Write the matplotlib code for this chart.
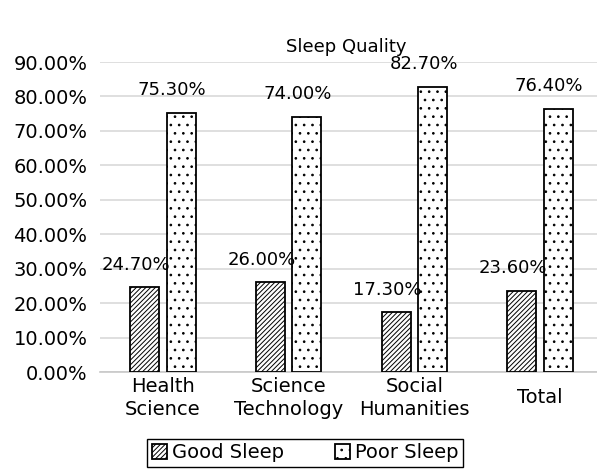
import matplotlib
matplotlib.use("Agg")
import matplotlib.pyplot as plt
import numpy as np

categories = ["Health\nScience", "Science\nTechnology", "Social\nHumanities", "Total"]
good_sleep = [24.7, 26.0, 17.3, 23.6]
poor_sleep = [75.3, 74.0, 82.7, 76.4]
series_names = ["Good Sleep", "Poor Sleep"]
yticks = [0, 10, 20, 30, 40, 50, 60, 70, 80, 90]
title = "Sleep Quality"

plt.rcParams['font.family'] = ['DejaVu Sans']
plt.rcParams['hatch.linewidth'] = 0.7

fig = plt.figure(figsize=(5.97, 4.70), dpi=100)
ax = fig.add_axes([100/597, 1-372/470, 497/597, (372-62)/470])

x = np.arange(len(categories))
w = 0.23
off = 0.145
b1 = ax.bar(x - off, good_sleep, w, color='white', edgecolor='black', linewidth=1.3,
            hatch='///////', label=series_names[0], zorder=3)
b2 = ax.bar(x + off, poor_sleep, w, color='white', edgecolor='black', linewidth=1.3,
            hatch='..', label=series_names[1], zorder=3)

for xi, v in zip(x - off, good_sleep):
    ax.annotate(f"{v:.2f}%", (xi, v), xytext=(-6.5, 16), textcoords='offset points',
                ha='center', va='center', fontsize=13, annotation_clip=False)
for xi, v in zip(x + off, poor_sleep):
    ax.annotate(f"{v:.2f}%", (xi, v), xytext=(-6.5, 16.5), textcoords='offset points',
                ha='center', va='center', fontsize=13, annotation_clip=False)

ax.set_xlim(-0.5, 3.453)
ax.set_ylim(0, 90)
ax.set_yticks(yticks)
ax.set_yticklabels([f"{t:.2f}%" for t in yticks], fontsize=14)
ax.set_xticks(x)
ax.set_xticklabels(categories, fontsize=14, va='center', linespacing=1.25)
ax.tick_params(axis='x', length=0, pad=18.5)
ax.tick_params(axis='y', length=0, pad=9)
ax.grid(axis='y', color='#d9d9d9', linewidth=1.2, zorder=0)
ax.set_axisbelow(True)
for s in ['top', 'right', 'left']:
    ax.spines[s].set_visible(False)
ax.spines['bottom'].set_color('#c8c8c8')
ax.spines['bottom'].set_linewidth(1.2)

fig.text(346/597, 1-47/470, title, ha='center', va='center', fontsize=13)

leg = fig.legend(handles=[b1, b2], loc='center', bbox_to_anchor=(305/597, 1-453/470),
                 ncol=2, fontsize=14, frameon=True, fancybox=False, edgecolor='black',
                 framealpha=1, handlelength=0.8, handleheight=0.8, handletextpad=0.25,
                 columnspacing=2.6, borderpad=0.25, borderaxespad=0)
leg.get_frame().set_linewidth(1.0)

fig.savefig("out.png", dpi=100)
